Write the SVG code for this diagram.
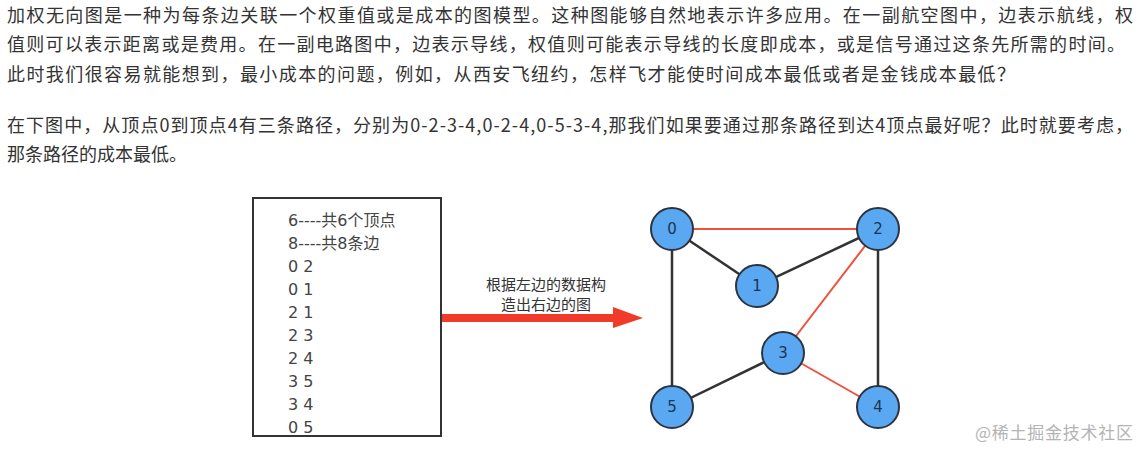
<svg xmlns="http://www.w3.org/2000/svg" width="1141" height="449" viewBox="0 0 1141 449">
<style>
.p{font-family:"Noto Sans CJK SC","Noto Sans",sans-serif;font-size:18px;fill:#333}
.b{font-family:"DejaVu Sans","Noto Sans CJK SC",sans-serif;font-size:16px;fill:#444}
.lbl{font-family:"Noto Sans CJK SC",sans-serif;font-size:15px;fill:#333;text-anchor:middle}
.nd{fill:#5aa8f2;stroke:#2b3440;stroke-width:2}
.nt{font-family:"DejaVu Sans",sans-serif;font-size:15px;fill:#1c3553;text-anchor:middle}
.ek{stroke:#333;stroke-width:2.5}
.er{stroke:#f0503e;stroke-width:2}
.wm{font-family:"Noto Sans CJK SC",sans-serif;font-size:17px;fill:#b4b4b4}
</style>
<rect width="1141" height="449" fill="#fff"/>
<g id="paragraph">
<text class="p" x="7" y="22" textLength="1126" lengthAdjust="spacing">加权无向图是一种为每条边关联一个权重值或是成本的图模型。这种图能够自然地表示许多应用。在一副航空图中，边表示航线，权</text>
<text class="p" x="7" y="51" textLength="1118" lengthAdjust="spacing">值则可以表示距离或是费用。在一副电路图中，边表示导线，权值则可能表示导线的长度即成本，或是信号通过这条先所需的时间。</text>
<text class="p" x="7" y="81" textLength="1008" lengthAdjust="spacing">此时我们很容易就能想到，最小成本的问题，例如，从西安飞纽约，怎样飞才能使时间成本最低或者是金钱成本最低？</text>
<text class="p" x="7" y="132" textLength="1126" lengthAdjust="spacing">在下图中，从顶点0到顶点4有三条路径，分别为0-2-3-4,0-2-4,0-5-3-4,那我们如果要通过那条路径到达4顶点最好呢？此时就要考虑，</text>
<text class="p" x="7" y="161" textLength="180" lengthAdjust="spacing">那条路径的成本最低。</text>
</g>
<g id="databox">
<rect x="253" y="198" width="188" height="238" fill="#fff" stroke="#333" stroke-width="2"/>
<text class="b" x="288" y="226">6----共6个顶点</text>
<text class="b" x="288" y="249">8----共8条边</text>
<text class="b" x="288" y="272">0 2</text>
<text class="b" x="288" y="295">0 1</text>
<text class="b" x="288" y="318">2 1</text>
<text class="b" x="288" y="341">2 3</text>
<text class="b" x="288" y="364">2 4</text>
<text class="b" x="288" y="387">3 5</text>
<text class="b" x="288" y="410">3 4</text>
<text class="b" x="288" y="433">0 5</text>
</g>
<g id="arrow">
<line x1="442" y1="318" x2="616" y2="318" stroke="#f03a2a" stroke-width="8"/>
<polygon points="613,307 643,318 613,328" fill="#f03a2a"/>
<text class="lbl" x="546" y="290">根据左边的数据构</text>
<text class="lbl" x="546" y="310">造出右边的图</text>
</g>
<g id="edges">
<line class="er" x1="672" y1="229" x2="878" y2="229"/>
<line class="ek" x1="672" y1="229" x2="757" y2="286"/>
<line class="ek" x1="757" y1="286" x2="878" y2="229"/>
<line class="er" x1="878" y1="229" x2="783" y2="353"/>
<line class="ek" x1="878" y1="229" x2="878" y2="407"/>
<line class="ek" x1="783" y1="353" x2="672" y2="407"/>
<line class="er" x1="783" y1="353" x2="878" y2="407"/>
<line class="ek" x1="672" y1="229" x2="672" y2="407"/>
</g>
<g id="node0"><circle class="nd" cx="672" cy="229" r="21"/><text class="nt" x="672" y="234">0</text></g>
<g id="node1"><circle class="nd" cx="757" cy="286" r="21"/><text class="nt" x="757" y="291">1</text></g>
<g id="node2"><circle class="nd" cx="878" cy="229" r="21"/><text class="nt" x="878" y="234">2</text></g>
<g id="node3"><circle class="nd" cx="783" cy="353" r="21"/><text class="nt" x="783" y="358">3</text></g>
<g id="node4"><circle class="nd" cx="878" cy="407" r="21"/><text class="nt" x="878" y="412">4</text></g>
<g id="node5"><circle class="nd" cx="672" cy="407" r="21"/><text class="nt" x="672" y="412">5</text></g>
<text class="wm" x="975" y="439" textLength="158" lengthAdjust="spacing">@稀土掘金技术社区</text>
</svg>
